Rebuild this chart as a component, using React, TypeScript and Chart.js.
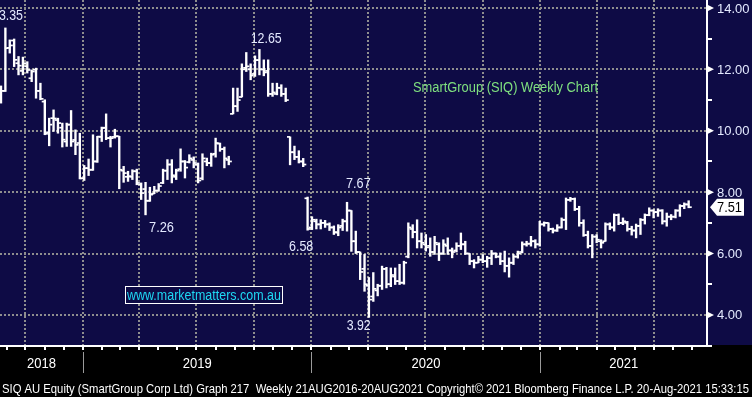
import { useEffect, useRef } from 'react';
import { Chart, registerables } from 'chart.js';

Chart.register(...registerables);

// ---- data (weekly OHLC, SIQ AU, from mid-Aug 2018 to 20-Aug-2021) ----
const opens = [
  10.95, 11.30, 12.70, 12.94, 12.20, 11.95, 12.10, 11.71, 11.99, 11.30,
  10.95, 9.95, 10.41, 10.35, 10.10, 9.65, 10.20, 9.70, 9.60, 8.45,
  8.78, 8.73, 9.00, 9.80, 10.10, 9.76, 9.80, 9.82, 8.70, 8.50,
  8.50, 8.68, 8.25, 8.10, 7.72, 7.95, 8.05, 8.30, 8.70, 8.90,
  8.50, 8.75, 9.00, 8.98, 9.05, 8.90, 8.45, 9.00, 8.95, 9.25,
  9.58, 9.40, 9.05, 10.55, 10.80, 11.10, 12.05, 12.00, 11.85, 12.30,
  12.00, 11.95, 11.20, 11.20, 11.40, 11.20, 9.80, 9.30, 9.15, 9.00,
  7.80, 6.85, 7.05, 6.95, 7.00, 6.95, 6.85, 6.68, 6.90, 7.05,
  7.40, 6.40, 6.05, 5.50, 4.95, 4.60, 4.80, 4.95, 5.50, 5.00,
  5.25, 5.10, 5.05, 5.90, 6.80, 6.70, 6.40, 6.30, 6.25, 6.05,
  6.30, 6.00, 6.25, 6.10, 6.10, 6.25, 6.30, 6.00, 5.75, 5.70,
  5.80, 5.75, 5.85, 6.00, 5.90, 5.75, 5.60, 5.70, 5.90, 6.05,
  6.30, 6.32, 6.40, 6.30, 6.95, 7.00, 6.80, 6.75, 6.85, 7.10,
  7.75, 7.78, 7.45, 7.00, 6.60, 6.25, 6.55, 6.40, 6.40, 6.95,
  6.85, 7.25, 7.00, 7.00, 6.80, 6.75, 6.90, 7.10, 7.25, 7.40,
  7.35, 7.40, 7.05, 7.20, 7.20, 7.40, 7.55, 7.60,
];
const highs = [
  11.46, 13.35, 12.96, 12.99, 12.42, 12.40, 12.25, 11.98, 12.04, 11.55,
  11.01, 10.41, 10.68, 10.41, 10.25, 10.25, 10.66, 10.03, 9.92, 8.87,
  9.08, 9.87, 9.82, 10.12, 10.55, 9.82, 10.05, 9.82, 8.84, 8.68,
  8.73, 8.75, 8.30, 8.32, 8.16, 8.19, 8.28, 8.75, 9.06, 9.06,
  8.75, 9.41, 9.03, 9.22, 9.15, 8.95, 9.25, 9.11, 9.27, 9.76,
  9.60, 9.47, 9.17, 11.39, 11.39, 12.18, 12.55, 12.18, 12.44, 12.65,
  12.31, 12.31, 11.55, 11.55, 11.50, 11.39, 9.80, 9.50, 9.35, 9.10,
  7.84, 7.20, 7.12, 7.10, 7.08, 7.00, 6.90, 6.94, 7.12, 7.67,
  7.40, 6.73, 6.05, 5.97, 5.22, 5.38, 5.00, 5.59, 5.55, 5.53,
  5.53, 5.65, 5.75, 7.00, 6.94, 7.10, 6.67, 6.62, 6.51, 6.56,
  6.35, 6.45, 6.51, 6.18, 6.35, 6.67, 6.40, 6.00, 5.80, 5.91,
  5.97, 5.91, 6.10, 6.02, 6.02, 6.08, 5.86, 5.97, 6.08, 6.38,
  6.40, 6.56, 6.45, 7.05, 7.03, 7.00, 6.83, 6.94, 7.16, 7.81,
  7.83, 7.81, 7.54, 7.10, 6.73, 6.62, 6.62, 6.45, 7.00, 7.00,
  7.29, 7.29, 7.16, 7.05, 6.89, 6.96, 7.14, 7.29, 7.49, 7.43,
  7.46, 7.43, 7.32, 7.27, 7.43, 7.59, 7.65, 7.72,
];
const lows = [
  10.90, 11.28, 12.53, 12.09, 11.82, 11.82, 11.88, 11.60, 11.06, 11.01,
  9.87, 9.51, 9.98, 9.92, 9.47, 9.49, 9.49, 9.22, 8.43, 8.38,
  8.54, 8.71, 8.97, 9.65, 9.71, 9.47, 9.76, 8.11, 8.32, 8.35,
  8.41, 8.24, 7.76, 7.26, 7.70, 7.95, 8.03, 8.28, 8.41, 8.30,
  8.41, 8.68, 8.46, 8.95, 8.79, 8.30, 8.40, 8.86, 8.84, 9.14,
  9.33, 8.79, 8.89, 10.55, 10.63, 11.10, 11.93, 11.66, 11.77, 11.82,
  11.79, 11.12, 11.12, 11.17, 11.12, 10.95, 8.89, 9.06, 8.95, 8.83,
  6.76, 6.78, 6.80, 6.80, 6.85, 6.75, 6.62, 6.58, 6.75, 6.73,
  6.07, 6.00, 5.15, 4.77, 3.92, 4.44, 4.62, 4.83, 4.88, 4.92,
  4.99, 4.99, 5.00, 5.86, 6.51, 6.18, 6.18, 6.08, 5.91, 5.97,
  5.77, 5.97, 5.97, 5.86, 6.05, 6.13, 5.97, 5.64, 5.53, 5.70,
  5.70, 5.55, 5.64, 5.86, 5.64, 5.40, 5.23, 5.64, 5.85, 6.02,
  6.24, 6.24, 6.18, 6.24, 6.89, 6.73, 6.67, 6.72, 6.83, 6.78,
  7.70, 7.40, 6.89, 6.56, 6.18, 5.86, 6.35, 6.18, 6.40, 6.78,
  6.73, 6.94, 6.94, 6.73, 6.60, 6.51, 6.62, 6.96, 7.23, 7.16,
  7.21, 6.96, 6.89, 7.10, 7.16, 7.21, 7.46, 7.49,
];
const closes = [
  11.30, 12.69, 12.78, 12.31, 12.12, 12.20, 11.98, 11.93, 11.30, 11.04,
  9.90, 10.20, 10.40, 10.25, 9.71, 10.20, 9.65, 9.54, 8.45, 8.78,
  8.73, 9.00, 9.81, 10.09, 9.76, 9.76, 9.82, 8.73, 8.62, 8.52,
  8.68, 8.30, 7.97, 7.72, 7.92, 8.05, 8.20, 8.70, 8.90, 8.55,
  8.70, 9.00, 8.80, 9.10, 8.95, 8.38, 9.10, 8.95, 9.22, 9.60,
  9.40, 9.10, 9.00, 10.80, 11.00, 12.00, 12.10, 11.80, 12.30, 12.00,
  11.90, 11.20, 11.25, 11.40, 11.20, 11.00, 9.30, 9.15, 9.00, 8.90,
  6.80, 7.10, 6.95, 7.00, 6.95, 6.85, 6.70, 6.85, 7.05, 7.40,
  6.40, 6.05, 5.40, 5.00, 4.50, 4.85, 4.95, 5.50, 5.00, 5.30,
  5.10, 5.05, 5.70, 6.85, 6.70, 6.40, 6.35, 6.20, 6.05, 6.35,
  6.00, 6.30, 6.10, 6.05, 6.25, 6.30, 6.00, 5.75, 5.70, 5.80,
  5.75, 5.85, 6.00, 5.90, 5.75, 5.60, 5.70, 5.90, 6.00, 6.30,
  6.32, 6.40, 6.30, 6.95, 7.00, 6.80, 6.75, 6.85, 7.10, 7.75,
  7.78, 7.45, 7.00, 6.60, 6.25, 6.55, 6.45, 6.35, 6.95, 6.85,
  7.25, 7.00, 7.05, 6.80, 6.75, 6.90, 7.10, 7.25, 7.40, 7.35,
  7.40, 7.05, 7.20, 7.20, 7.40, 7.55, 7.60, 7.51,
];
const lastPrice = 7.51;
const yMajorTicks = [4, 6, 8, 10, 12, 14];
const yMinorTicks = [3, 5, 7, 9, 11, 13];
const years = [2018, 2019, 2020, 2021];
const priceNotes = ['13.35', '12.65', '7.26', '7.67', '6.58', '3.92'];
const titleText = 'SmartGroup (SIQ) Weekly Chart';
const siteText = 'www.marketmatters.com.au';
const footerText =
  'SIQ AU Equity (SmartGroup Corp Ltd) Graph 217  Weekly 21AUG2016-20AUG2021 Copyright\u00A9 2021 Bloomberg Finance L.P. 20-Aug-2021 15:33:15';

// ---- layout ----
const W = 752;
const H = 397;
const PLOT_R = 707;
const PLOT_B = 345;
const X_MIN = -0.228;
const X_MAX = 161.19;
const Y_MIN = 3.02;
const Y_MAX = 14.26;
const JAN2019_IDX = 18.72; // week index of 1-Jan-2019
const NAVY = '#0e0b45';
const LABEL = '#e4eaff';
const FONT = "'Liberation Sans', Arial, sans-serif";

const dayMs = 86400000;
function dateIdx(y: number, m: number) {
  return JAN2019_IDX + (Date.UTC(y, m, 1) - Date.UTC(2019, 0, 1)) / dayMs / 7;
}

function fitText(
  ctx: CanvasRenderingContext2D,
  text: string,
  left: number,
  base: number,
  width: number,
  size: number,
  color: string,
) {
  ctx.save();
  ctx.font = `${size}px ${FONT}`;
  const w = ctx.measureText(text).width;
  ctx.fillStyle = color;
  ctx.textAlign = 'left';
  ctx.textBaseline = 'alphabetic';
  ctx.translate(left, base);
  ctx.scale(width / w, 1);
  ctx.fillText(text, 0, 0);
  ctx.restore();
}

const decor = {
  id: 'decor',
  beforeDraw(chart: any) {
    const ctx = chart.ctx as CanvasRenderingContext2D;
    ctx.save();
    ctx.fillStyle = '#000';
    ctx.fillRect(0, 0, W, H);
    ctx.fillStyle = NAVY;
    ctx.fillRect(0, 0, W, PLOT_B);
    ctx.restore();
  },
  beforeDatasetsDraw(chart: any) {
    const ctx = chart.ctx as CanvasRenderingContext2D;
    const xs = chart.scales.x;
    const ys = chart.scales.y;
    ctx.save();
    ctx.strokeStyle = '#8e8e8e';
    ctx.lineWidth = 2;
    ctx.setLineDash([2, 2]);
    for (const v of yMajorTicks) {
      const y = Math.round(ys.getPixelForValue(v));
      ctx.beginPath();
      ctx.moveTo(0, y);
      ctx.lineTo(PLOT_R, y);
      ctx.stroke();
    }
    for (let yr = 2018; yr <= 2021; yr++) {
      for (let q = 0; q < 12; q += 3) {
        const px = xs.getPixelForValue(dateIdx(yr, q));
        if (px < 2 || px > PLOT_R - 2) continue;
        const x = Math.round(px);
        ctx.beginPath();
        ctx.moveTo(x, 0);
        ctx.lineTo(x, PLOT_B);
        ctx.stroke();
      }
    }
    ctx.restore();
  },
  afterDraw(chart: any) {
    const ctx = chart.ctx as CanvasRenderingContext2D;
    const xs = chart.scales.x;
    const ys = chart.scales.y;
    ctx.save();
    // axes lines
    ctx.fillStyle = '#fff';
    ctx.fillRect(PLOT_R - 1, 0, 2, PLOT_B + 2);
    ctx.fillRect(0, PLOT_B, PLOT_R + 1, 2);
    // month ticks
    for (let yr = 2018; yr <= 2021; yr++) {
      for (let m = 0; m < 12; m++) {
        const px = xs.getPixelForValue(dateIdx(yr, m));
        if (px < 1 || px > PLOT_R - 1) continue;
        ctx.fillRect(Math.round(px) - 1, PLOT_B + 2, 2, 3);
      }
    }
    // year dividers + labels
    const bounds = [0];
    for (const yr of years.slice(1)) bounds.push(xs.getPixelForValue(dateIdx(yr, 0)));
    bounds.push(PLOT_R);
    ctx.fillStyle = '#9a9a9a';
    for (let i = 1; i < bounds.length - 1; i++) {
      ctx.fillRect(Math.round(bounds[i]), 352, 1, 21);
    }
    years.forEach((yr, i) => {
      const c = (bounds[i] + bounds[i + 1]) / 2;
      fitText(ctx, String(yr), c - 14.5, 368, 29, 14, '#fff');
    });
    // footer
    fitText(ctx, footerText, 2, 393, 747, 13, '#fff');
    // right axis ticks / labels
    ctx.fillStyle = '#fff';
    for (const v of yMinorTicks) {
      const y = Math.round(ys.getPixelForValue(v));
      if (y > PLOT_B + 1) continue;
      ctx.fillRect(PLOT_R + 1, y - 1, 4, 2);
    }
    ctx.font = `13px ${FONT}`;
    ctx.textBaseline = 'middle';
    for (const v of yMajorTicks) {
      const y = ys.getPixelForValue(v);
      ctx.fillStyle = '#fff';
      ctx.beginPath();
      ctx.moveTo(PLOT_R + 1, y - 3);
      ctx.lineTo(PLOT_R + 7, y);
      ctx.lineTo(PLOT_R + 1, y + 3);
      ctx.closePath();
      ctx.fill();
      ctx.fillStyle = LABEL;
      ctx.fillText(v.toFixed(2), PLOT_R + 10, y + 1);
    }
    // last price tag
    const ly = ys.getPixelForValue(lastPrice);
    ctx.fillStyle = '#fff';
    ctx.beginPath();
    ctx.moveTo(PLOT_R + 3, ly);
    ctx.lineTo(PLOT_R + 10, ly - 8.5);
    ctx.lineTo(PLOT_R + 37, ly - 8.5);
    ctx.lineTo(PLOT_R + 37, ly + 8.5);
    ctx.lineTo(PLOT_R + 10, ly + 8.5);
    ctx.closePath();
    ctx.fill();
    fitText(ctx, lastPrice.toFixed(2), PLOT_R + 10, ly + 5, 25, 14, '#000');
    ctx.restore();

    // annotations inside plot
    ctx.save();
    ctx.beginPath();
    ctx.rect(0, 0, PLOT_R - 1, PLOT_B);
    ctx.clip();
    const notePos: [number, number, number][] = [
      [-8, 20, 31],
      [250.7, 43, 31],
      [149, 232, 25],
      [346, 188, 24.7],
      [289, 251, 24.3],
      [346.7, 330, 24],
    ];
    priceNotes.forEach((t, i) => {
      const [l, b, w] = notePos[i];
      fitText(ctx, t, l, b, w, 14, LABEL);
    });
    fitText(ctx, titleText, 413, 92, 185, 14, '#7fe07f');
    // website box
    ctx.fillStyle = NAVY;
    ctx.fillRect(125, 286, 158, 18);
    ctx.strokeStyle = '#fff';
    ctx.lineWidth = 1;
    ctx.strokeRect(125.5, 286.5, 157, 17);
    fitText(ctx, siteText, 127, 300, 154, 14, '#1ed8f2');
    ctx.restore();
  },
};

export default function App() {
  const ref = useRef<HTMLCanvasElement | null>(null);
  useEffect(() => {
    document.body.style.margin = '0';
    const canvas = ref.current;
    if (!canvas) return;
    const chart = new Chart(canvas, {
      type: 'bar',
      data: {
        datasets: [
          {
            type: 'bar',
            data: highs.map((h, i) => ({ x: i, y: [lows[i], h] })) as any,
            backgroundColor: '#ffffff',
            borderWidth: 0,
            barThickness: 1.7,
            grouped: false,
          } as any,
          {
            type: 'scatter',
            data: opens.map((o, i) => ({ x: i - 0.34, y: o })),
            pointStyle: 'line',
            pointRadius: 1.6,
            pointBorderWidth: 1.7,
            pointBorderColor: '#ffffff',
            pointBackgroundColor: '#ffffff',
          } as any,
          {
            type: 'scatter',
            data: closes.map((c, i) => ({ x: i + 0.34, y: c })),
            pointStyle: 'line',
            pointRadius: 1.6,
            pointBorderWidth: 1.7,
            pointBorderColor: '#ffffff',
            pointBackgroundColor: '#ffffff',
          } as any,
        ],
      },
      options: {
        animation: false,
        responsive: false,
        maintainAspectRatio: false,
        devicePixelRatio: 1,
        events: [],
        layout: {
          autoPadding: false,
          padding: { left: 0, top: 0, right: W - PLOT_R, bottom: H - PLOT_B },
        },
        scales: {
          x: { type: 'linear', min: X_MIN, max: X_MAX, display: false, offset: false },
          y: { type: 'linear', min: Y_MIN, max: Y_MAX, display: false },
        },
        plugins: { legend: { display: false }, tooltip: { enabled: false } },
      },
      plugins: [decor],
    });
    return () => chart.destroy();
  }, []);
  return (
    <div style={{ position: 'absolute', left: 0, top: 0, width: W, height: H, background: '#000' }}>
      <canvas ref={ref} width={W} height={H} style={{ display: 'block', width: W, height: H }} />
    </div>
  );
}
